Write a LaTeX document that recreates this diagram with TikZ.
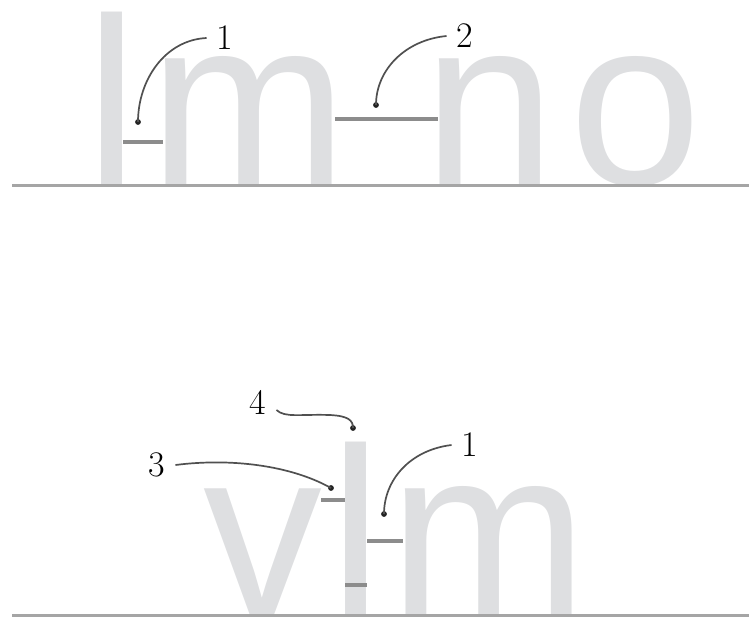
\documentclass[tikz,border=0pt]{standalone}
\usepackage{fontspec}
\newfontfamily\letterfont{Liberation Sans}
\definecolor{lettergray}{RGB}{222,223,225}
\definecolor{bargray}{RGB}{140,140,140}
\definecolor{linegray}{RGB}{165,165,165}
\definecolor{leadergray}{RGB}{80,80,80}
\definecolor{dotgray}{RGB}{35,35,35}
\begin{document}
\begin{tikzpicture}[x=1pt,y=-1pt,
  glyph/.style={anchor=base, inner sep=0pt, text=lettergray, font=\letterfont\fontsize{238}{238}\selectfont},
  callout/.style={inner sep=2pt, font=\fontsize{36}{36}\selectfont, text=black},
  leader/.style={draw=leadergray, line width=1.7pt},
  bar/.style={draw=bargray, line width=4.5pt},
  groundline/.style={draw=linegray, line width=3pt},
  dot/.style={fill=dotgray}]
\useasboundingbox (0,0) rectangle (749,616);
% letters
\node[glyph] (gl) at (112,184) {l};
\node[glyph] (gm) at (249,184) {m};
\node[glyph] (gn) at (490,184) {n};
\node[glyph] (go) at (636,184) {o};
\node[glyph] (bv) at (263,614) {v};
\node[glyph] (bl) at (356,614) {l};
\node[glyph] (bm) at (489,614) {m};
% ground lines
\draw[groundline] (12,185) -- (749,185);
\draw[groundline] (12,615) -- (749,615);
% bars
\draw[bar] (123,142) -- (163,142);
\draw[bar] (335,119) -- (438,119);
\draw[bar] (321,500) -- (345,500);
\draw[bar] (367,541) -- (403,541);
\draw[bar] (345,585) -- (367,585);
% dots
\coordinate (d1) at (138,122);
\coordinate (d2) at (376,105);
\coordinate (d4) at (353,428);
\coordinate (d3) at (331,488);
\coordinate (d5) at (384,514);
\foreach \p in {d1,d2,d3,d4,d5} \fill[dot] (\p) circle (2.9pt);
% labels
\node[callout] (t1) at (225,38) {1};
\node[callout] (t2) at (465,36) {2};
\node[callout] (t4) at (258,402) {4};
\node[callout] (t3) at (157,465) {3};
\node[callout] (t5) at (470,445) {1};
% leaders
\draw[leader] ([xshift=-8pt]t1.west) .. controls (165,40) and (138,80) .. (d1);
\draw[leader] ([xshift=-8pt]t2.west) .. controls (405,40) and (376,70) .. (d2);
\draw[leader] ([xshift=8pt,yshift=-8pt]t4.east) .. controls (285,418) and (300,414) .. (330,415) .. controls (348,416) and (353,420) .. (d4);
\draw[leader] ([xshift=8pt]t3.east) .. controls (230,458) and (290,465) .. (d3);
\draw[leader] ([xshift=-8pt]t5.west) .. controls (410,450) and (384,480) .. (d5);
\end{tikzpicture}
\end{document}
